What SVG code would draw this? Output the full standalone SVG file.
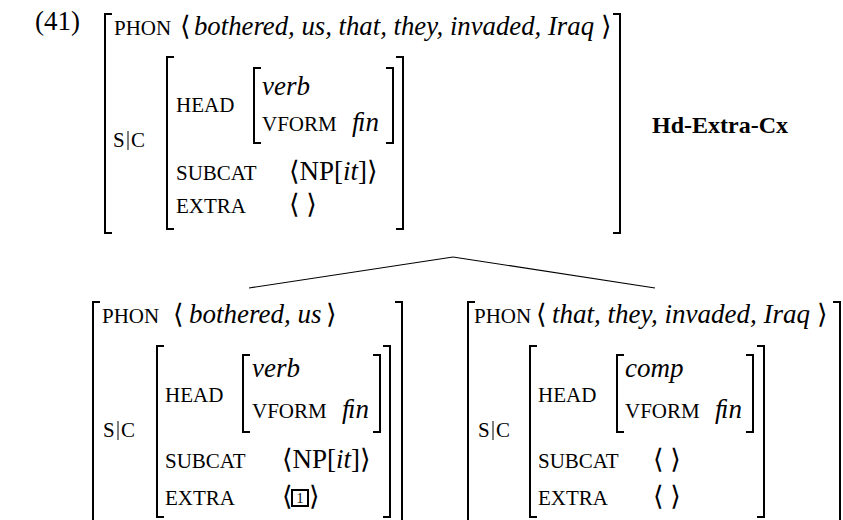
<svg xmlns="http://www.w3.org/2000/svg" width="843" height="520" viewBox="0 0 843 520">
<style>
text{font-family:"Liberation Serif","Times New Roman","DejaVu Serif",serif;fill:#000}
.rm{font-size:27px}
.it{font-size:27px;font-style:italic}
.sc{font-size:21px}
.bf{font-size:24px;font-weight:bold}
.num{font-size:14px}
.br{fill:none;stroke:#000;stroke-width:2}
.bar{stroke:#000;stroke-width:1}
.edge{stroke:#000;stroke-width:1.2;fill:none}
</style>
<rect width="843" height="520" fill="#fff"/>
<text class="rm" x="35" y="30">(41)</text>

<g id="node-mother">
  <path class="br" d="M112,14H105V233H112"/>
  <path class="br" d="M613,14H620V233H613"/>
  <text x="114" y="35"><tspan class="sc">PHON</tspan><tspan class="rm" x="180">⟨</tspan><tspan class="it" x="194" textLength="400" lengthAdjust="spacingAndGlyphs">bothered, us, that, they, invaded, Iraq</tspan><tspan class="rm" x="601">⟩</tspan></text>
  <text class="sc" x="113" y="147">S</text><line class="bar" x1="128" y1="131" x2="128" y2="150"/><text class="sc" x="131" y="147">C</text>
  <path class="br" d="M174,57H167V229H174"/>
  <path class="br" d="M396,57H403V229H396"/>
  <text class="sc" x="176" y="112">HEAD</text>
  <path class="br" d="M261,68H254V143H261"/>
  <path class="br" d="M386,68H393V143H386"/>
  <text class="it" x="262" y="95">verb</text>
  <text x="262" y="131"><tspan class="sc">VFORM</tspan><tspan class="it" x="352">ﬁn</tspan></text>
  <text class="sc" x="176" y="180">SUBCAT</text>
  <text class="rm" x="289" y="180">⟨NP[<tspan font-style="italic">it</tspan>]⟩</text>
  <text class="sc" x="176" y="213">EXTRA</text>
  <text class="rm" x="289" y="213">⟨ ⟩</text>
</g>

<g id="label">
  <text class="bf" x="652" y="133">Hd-Extra-Cx</text>
</g>

<g id="connectors">
  <line class="edge" x1="453" y1="257" x2="249" y2="288"/>
  <line class="edge" x1="453" y1="257" x2="655" y2="288"/>
</g>

<g id="node-left">
  <path class="br" d="M100,302H93V524H100"/>
  <path class="br" d="M395,302H402V524H395"/>
  <text x="102" y="323"><tspan class="sc">PHON</tspan><tspan class="rm" x="173">⟨</tspan><tspan class="it" x="189">bothered, us</tspan><tspan class="rm" x="326">⟩</tspan></text>
  <text class="sc" x="103" y="437">S</text><line class="bar" x1="118" y1="421" x2="118" y2="440"/><text class="sc" x="121" y="437">C</text>
  <path class="br" d="M164,346H157V517H164"/>
  <path class="br" d="M383,346H390V517H383"/>
  <text class="sc" x="165" y="402">HEAD</text>
  <path class="br" d="M250,355H243V432H250"/>
  <path class="br" d="M373,355H380V432H373"/>
  <text class="it" x="252" y="377">verb</text>
  <text x="252" y="418"><tspan class="sc">VFORM</tspan><tspan class="it" x="342">ﬁn</tspan></text>
  <text class="sc" x="165" y="468">SUBCAT</text>
  <text class="rm" x="282" y="468">⟨NP[<tspan font-style="italic">it</tspan>]⟩</text>
  <text class="sc" x="165" y="505">EXTRA</text>
  <text class="rm" x="282" y="505">⟨</text>
  <rect x="292" y="490" width="16" height="16" fill="none" stroke="#000" stroke-width="2"/>
  <text class="num" x="300" y="503" text-anchor="middle">1</text>
  <text class="rm" x="309" y="505">⟩</text>
</g>

<g id="node-right">
  <path class="br" d="M475,302H468V524H475"/>
  <path class="br" d="M833,302H840V524H833"/>
  <text x="474" y="323"><tspan class="sc">PHON</tspan><tspan class="rm" x="536">⟨</tspan><tspan class="it" x="552">that, they, invaded, Iraq</tspan><tspan class="rm" x="817">⟩</tspan></text>
  <text class="sc" x="478" y="437">S</text><line class="bar" x1="493" y1="421" x2="493" y2="440"/><text class="sc" x="496" y="437">C</text>
  <path class="br" d="M537,346H530V517H537"/>
  <path class="br" d="M757,346H764V517H757"/>
  <text class="sc" x="538" y="402">HEAD</text>
  <path class="br" d="M624,355H617V432H624"/>
  <path class="br" d="M746,355H753V432H746"/>
  <text class="it" x="625" y="377">comp</text>
  <text x="625" y="418"><tspan class="sc">VFORM</tspan><tspan class="it" x="715">ﬁn</tspan></text>
  <text class="sc" x="538" y="468">SUBCAT</text>
  <text class="rm" x="653" y="468">⟨ ⟩</text>
  <text class="sc" x="538" y="505">EXTRA</text>
  <text class="rm" x="653" y="505">⟨ ⟩</text>
</g>
</svg>
